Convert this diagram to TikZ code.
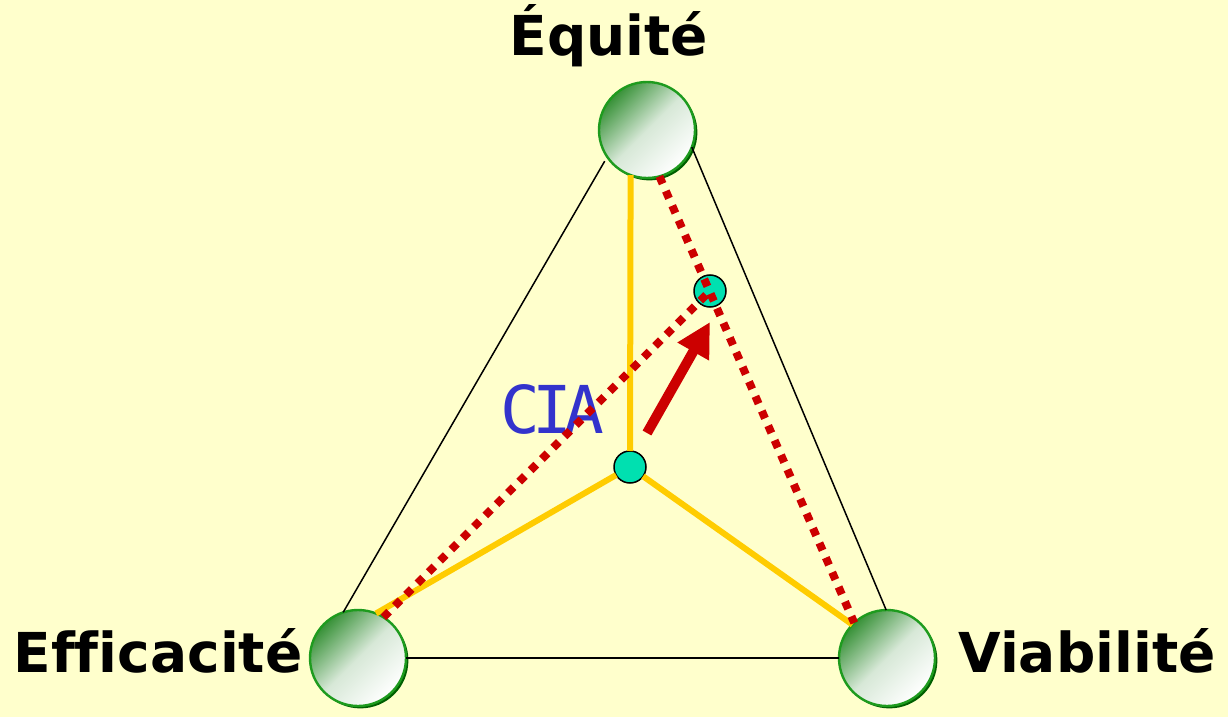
\documentclass[tikz,border=0pt]{standalone}
\usepackage{fontspec}
\setsansfont{DejaVu Sans}[Ligatures=NoCommon]
\newfontfamily\ciafont[LetterSpace=-12]{DejaVu Sans Mono}
\usepackage{tikz}
\usepackage{xcolor}
\usetikzlibrary{arrows.meta,positioning,shadows}

\definecolor{bgYellow}{HTML}{FFFFCC}
\definecolor{spokeYellow}{HTML}{FFCC00}
\definecolor{hubTeal}{RGB}{0,224,176}
\definecolor{dotRed}{HTML}{CC0000}
\definecolor{ciaBlue}{HTML}{3333CC}
\definecolor{ballGreen}{RGB}{55,145,55}
\definecolor{ballMid}{RGB}{215,232,215}
\definecolor{ballRim}{RGB}{30,155,30}
\definecolor{ballDark}{RGB}{0,95,0}

\begin{document}
\begin{tikzpicture}[
  x=0.5pt, y=-0.5pt,
  sphere/.style={circle, minimum size=48pt, inner sep=0pt, outer sep=0pt,
    draw=ballRim, line width=1.2pt,
    top color=ballGreen, bottom color=white, middle color=ballMid, shading angle=45,
    drop shadow={shadow xshift=1.2pt, shadow yshift=-1.2pt, fill=ballDark, opacity=1}},
  hub/.style={circle, draw, line width=0.75pt, fill=hubTeal, minimum size=16pt, inner sep=0pt, outer sep=0pt},
  lbl/.style={anchor=base, inner sep=0pt, font=\sffamily\bfseries\fontsize{27.5}{33}\selectfont},
  side/.style={line width=0.75pt},
  spoke/.style={draw=spokeYellow, line width=3pt},
  dotpath/.style={draw=dotRed, line width=4pt, dash pattern=on 4pt off 4pt},
  bigarrow/.style={draw=dotRed, line width=5pt, -{Triangle[length=17pt,width=17pt]}}
]
\fill[bgYellow] (0,0) rectangle (1228,717);
\useasboundingbox (0,0) rectangle (1228,717);

% the three poles
\node[sphere] (equ) at (647,130) {};
\node[sphere] (eff) at (358,658) {};
\node[sphere] (via) at (887,658) {};
\node[lbl] (lblEqu) at (609,56) {Équité};
\node[lbl] (lblEff) at (158,672) {Efficacité};
\node[lbl] (lblVia) at (1087,672) {Viabilité};

% outer triangle
\draw[side, shorten <=2.5pt] (equ.214) -- (eff.108);
\draw[side] (equ.339) -- (via.91);
\draw[side] (eff.east) -- (via.west);

% points inside
\node[hub] (cen) at (630,467) {};
\node[hub] (pt) at (710,291) {};
\draw[spoke] (cen) -- (equ.250);
\draw[spoke] (cen) -- (eff.68);
\draw[spoke] (cen) -- (via.136);

\node[text=ciaBlue, font=\ciafont\fontsize{33}{40}\selectfont, anchor=base, inner sep=0pt] (lblCia) at (552,433) {CIA};

\draw[dotpath] (equ.285) -- (via.133);
\draw[dotpath] (eff.58) -- (pt.center);

\coordinate (arrTail) at (647,433);
\coordinate (arrTip) at (710,322);
\draw[bigarrow] (arrTail) -- (arrTip);
\end{tikzpicture}
\end{document}
